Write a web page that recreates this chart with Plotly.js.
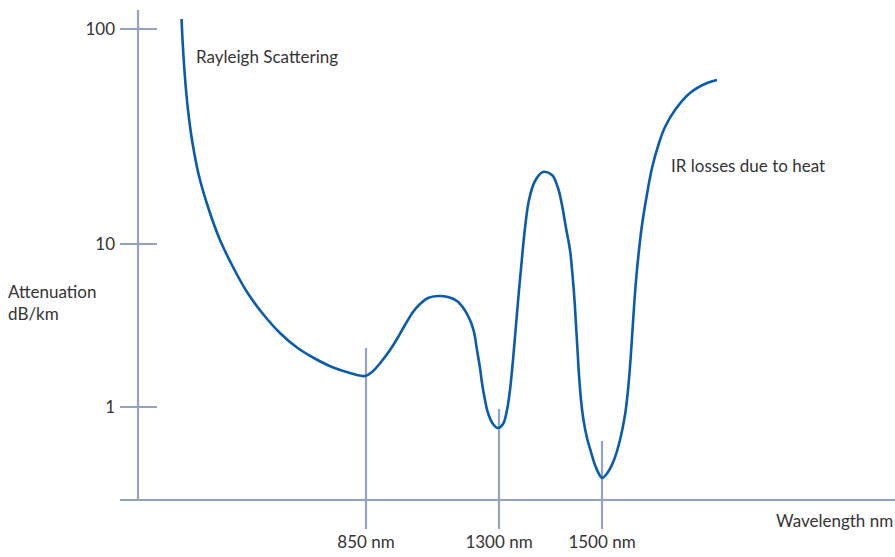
<!DOCTYPE html>
<html>
<head>
<meta charset="utf-8">
<script src="https://cdn.plot.ly/plotly-3.0.1.min.js"></script>
<style>html,body{margin:0;padding:0;background:#fff;}#chart{width:895px;height:557px;}</style>
</head>
<body>
<div id="chart"></div>
<script>
// Schematic chart: axes are not to scale, so values are in schematic units
// (x: position along wavelength axis, y: height along attenuation axis)
var curveX = [43.5, 45, 47, 50, 54.5, 61, 71, 82, 95, 109, 125, 142, 159, 175, 194, 212, 227,
  234, 243, 252, 259, 267, 275, 282, 290, 300, 310, 319, 326, 332, 336, 339, 342, 344, 347, 350, 355, 360,
  365, 369, 372, 375, 378, 381, 384, 387, 391, 397, 405, 414, 420, 424, 428, 432, 434.5, 436.5, 438, 439.5, 441, 443, 445.5, 449, 453, 457, 460.5, 464,
  470, 476, 482, 487, 490, 492.5, 494.5, 496.5, 498.5, 501, 504, 508, 514, 521, 527, 537, 552, 569, 579];
var curveY = [481, 452, 422, 390, 357, 324, 290, 260, 233, 208, 186, 167, 152.5, 142.5, 133, 127, 124,
  128, 138, 150, 161, 175, 188, 196, 202, 204, 203, 199, 191, 180, 168, 150, 132, 117, 100, 87, 76, 72,
  76, 90, 110, 140, 175, 210, 242, 272, 300, 319, 328, 325, 312, 295, 272, 250, 225, 200, 175, 150, 125, 100, 80, 62, 48, 35, 27, 22,
  28, 40, 60, 85, 110, 140, 170, 200, 225, 250, 275, 300, 332, 357, 373, 390, 407, 417, 420];

var yTickPos = [93, 256, 471];
var yTickLabels = ['1', '10', '100'];
var xTickPos = [228, 361, 464];
var xTickLabels = ['850 nm', '1300 nm', '1500 nm'];
var markerTop = [152, 91, 59];

var axisColor = '#93a3bf';
var curveColor = '#0b5ca8';
var textColor = '#333333';
var fontFamily = 'Lato, "Open Sans", sans-serif';
var fontSize = 17;

var shapes = [];
// y axis line
shapes.push({type: 'line', xref: 'x', yref: 'y', x0: 0, x1: 0, y0: 0, y1: 490, line: {color: axisColor, width: 2.2}, layer: 'below'});
// x axis line
shapes.push({type: 'line', xref: 'x', yref: 'y', x0: -18, x1: 757, y0: 0, y1: 0, line: {color: axisColor, width: 2.2}, layer: 'below'});
// y ticks
yTickPos.forEach(function (v) {
  shapes.push({type: 'line', xref: 'x', yref: 'y', x0: -18, x1: 19, y0: v, y1: v, line: {color: axisColor, width: 2.2}, layer: 'below'});
});
// wavelength markers
xTickPos.forEach(function (v, i) {
  shapes.push({type: 'line', xref: 'x', yref: 'y', x0: v, x1: v, y0: -29, y1: markerTop[i], line: {color: axisColor, width: 2.2}, layer: 'below'});
});

var trace = {
  x: curveX,
  y: curveY,
  type: 'scatter',
  mode: 'lines',
  line: {color: curveColor, width: 2.6, shape: 'spline', smoothing: 1},
  hoverinfo: 'skip'
};

var layout = {
  width: 895,
  height: 557,
  margin: {l: 120, r: 0, t: 10, b: 27},
  paper_bgcolor: '#ffffff',
  plot_bgcolor: '#ffffff',
  showlegend: false,
  font: {family: fontFamily, size: fontSize, color: textColor},
  xaxis: {
    range: [-18, 757],
    tickvals: xTickPos,
    ticktext: xTickLabels,
    showgrid: false,
    zeroline: false,
    showline: false,
    ticks: '',
    ticklabelstandoff: 0,
    tickfont: {family: fontFamily, size: fontSize, color: textColor},
    fixedrange: true
  },
  yaxis: {
    range: [-30, 490],
    tickvals: yTickPos,
    ticktext: yTickLabels,
    showgrid: false,
    zeroline: false,
    showline: false,
    ticks: '',
    ticklabelstandoff: 4,
    tickfont: {family: fontFamily, size: fontSize, color: textColor},
    fixedrange: true
  },
  shapes: shapes,
  annotations: [
    {text: 'Attenuation<br>dB/km', xref: 'paper', yref: 'y', x: -0.1465, y: 198, xanchor: 'left', yanchor: 'middle', align: 'left', showarrow: false, font: {family: fontFamily, size: fontSize, color: textColor}},
    {text: 'Wavelength nm', xref: 'x', yref: 'y', x: 757, y: -20, xanchor: 'right', yanchor: 'middle', showarrow: false, font: {family: fontFamily, size: fontSize, color: textColor}},
    {text: 'Rayleigh Scattering', xref: 'x', yref: 'y', x: 56, y: 444, xanchor: 'left', yanchor: 'middle', showarrow: false, font: {family: fontFamily, size: fontSize, color: textColor}},
    {text: 'IR losses due to heat', xref: 'x', yref: 'y', x: 531, y: 335, xanchor: 'left', yanchor: 'middle', showarrow: false, font: {family: fontFamily, size: fontSize, color: textColor}}
  ]
};

Plotly.newPlot('chart', [trace], layout, {displayModeBar: false, staticPlot: true});
</script>
</body>
</html>
